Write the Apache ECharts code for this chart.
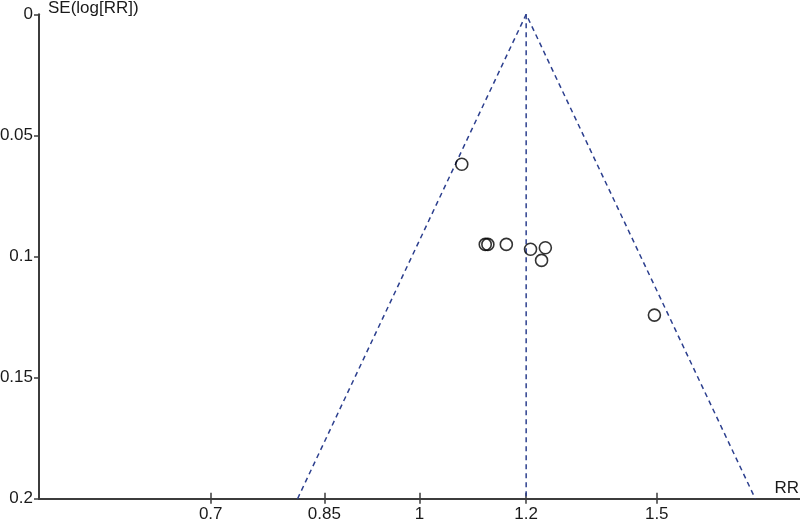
<!DOCTYPE html>
<html>
<head>
<meta charset="utf-8">
<script src="https://cdn.jsdelivr.net/npm/echarts@6/dist/echarts.min.js"></script>
<style>
html,body{margin:0;padding:0;background:#fff;}
#chart{width:800px;height:522px;}
</style>
</head>
<body>
<div id="chart"></div>
<script>
// Study estimates (risk ratio) and their standard errors of log(RR)
const studyRR = [1.075, 1.119, 1.124, 1.160, 1.209, 1.240, 1.232, 1.494];
const studySE = [0.0619, 0.0950, 0.0950, 0.0950, 0.0970, 0.0964, 0.1016, 0.1242];
// Pooled estimate and funnel limits
const pooledRR = 1.20;
const funnelRR = [0.812, 1.20, 1.775];
const funnelSE = [0.2, 0, 0.2];
// Axes
const xTickRR = [0.7, 0.85, 1, 1.2, 1.5];
const xTickLabels = ['0.7', '0.85', '1', '1.2', '1.5'];
const xRangeRR = [0.522, 1.916];
const yRange = [0, 0.2];
const yStep = 0.05;

const ln = Math.log;
const xTickPos = xTickRR.map(ln);
const scatterData = studyRR.map((r, i) => [ln(r), studySE[i]]);
const funnelData = funnelRR.map((r, i) => [ln(r), funnelSE[i]]);
const pooledData = [[ln(pooledRR), yRange[0]], [ln(pooledRR), yRange[1]]];

const axisColor = '#3c3c3c';
const textColor = '#1a1a1a';
const dashColor = '#2c3f8e';
const font = 'Liberation Sans, Arial, sans-serif';
const fs = 17;

function labelFor(v) {
  let best = 0, d = Infinity;
  xTickPos.forEach((p, i) => { const dd = Math.abs(p - v); if (dd < d) { d = dd; best = i; } });
  return xTickLabels[best];
}

const commonX = {
  type: 'value',
  min: ln(xRangeRR[0]),
  max: ln(xRangeRR[1]),
  position: 'bottom',
  splitLine: { show: false },
  axisLine: { show: true, onZero: false, lineStyle: { color: axisColor, width: 2 } }
};

const chart = echarts.init(document.getElementById('chart'), null, { renderer: 'canvas' });
chart.setOption({
  animation: false,
  backgroundColor: '#ffffff',
  grid: { left: 39, right: 0, top: 14.3, bottom: 23.3, containLabel: false, outerBoundsMode: 'none' },
  xAxis: [
    Object.assign({}, commonX, {
      axisTick: { show: true, inside: false, length: 5, customValues: xTickPos, lineStyle: { color: axisColor, width: 1.5 } },
      axisLabel: { show: true, customValues: xTickPos, formatter: labelFor, margin: 7, color: textColor, fontSize: fs, fontFamily: font }
    }),
    Object.assign({}, commonX, {
      axisTick: { show: true, inside: true, length: 6, customValues: xTickPos, lineStyle: { color: axisColor, width: 1.5 } },
      axisLabel: { show: false }
    })
  ],
  yAxis: {
    type: 'value',
    inverse: true,
    min: yRange[0],
    max: yRange[1],
    interval: yStep,
    position: 'left',
    splitLine: { show: false },
    axisLine: { show: true, onZero: false, lineStyle: { color: axisColor, width: 2 } },
    axisTick: { show: true, inside: false, length: 5, lineStyle: { color: axisColor, width: 1.5 } },
    axisLabel: { margin: 6, color: textColor, fontSize: fs, fontFamily: font }
  },
  graphic: [
    { type: 'text', left: 48, top: 0, style: { text: 'SE(log[RR])', fill: textColor, font: fs + 'px ' + font } },
    { type: 'text', right: 1, top: 480, style: { text: 'RR', fill: textColor, font: fs + 'px ' + font } }
  ],
  series: [
    {
      type: 'line', xAxisIndex: 0, data: funnelData, symbol: 'none', silent: true,
      lineStyle: { color: dashColor, width: 1.5, type: [5, 4] }, z: 2
    },
    {
      type: 'line', xAxisIndex: 0, data: pooledData, symbol: 'none', silent: true,
      lineStyle: { color: dashColor, width: 1.5, type: [5, 4] }, z: 2
    },
    {
      type: 'scatter', xAxisIndex: 0, data: scatterData, symbol: 'circle', symbolSize: 12,
      itemStyle: { color: 'rgba(255,255,255,0)', borderColor: '#000', borderWidth: 1.6 }, z: 3
    }
  ]
});
</script>
</body>
</html>
